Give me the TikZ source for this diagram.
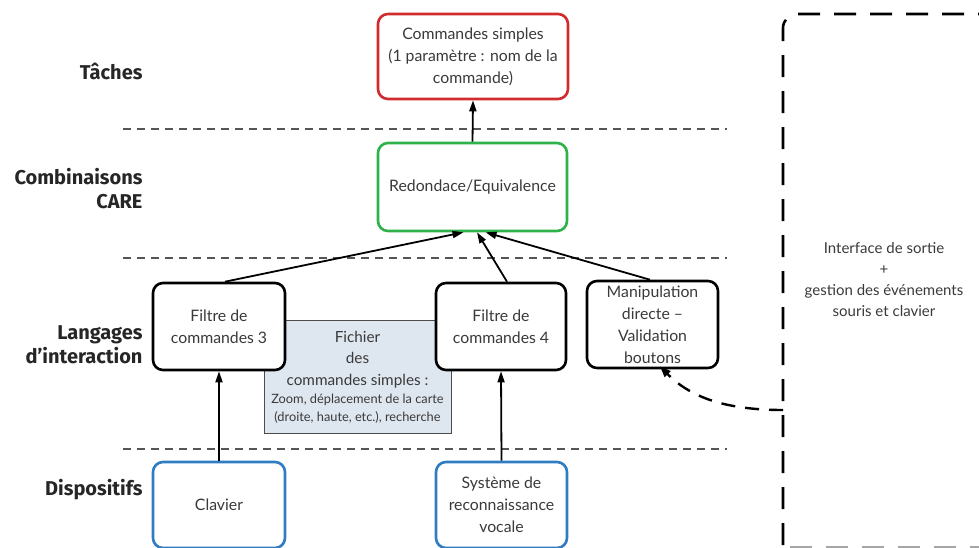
\documentclass[tikz,border=0pt]{standalone}
\usepackage{fontspec}
\setmainfont{Lato}
\newfontfamily\labelfont{Fira Sans}
\usetikzlibrary{arrows.meta,calc}
\definecolor{txtgray}{HTML}{3A3A3A}
\definecolor{boxred}{HTML}{D12B2E}
\definecolor{boxgreen}{HTML}{2FB24A}
\definecolor{boxblue}{HTML}{2F7CC2}
\definecolor{filefill}{HTML}{DEE6EF}
\definecolor{sepgray}{HTML}{555555}
\tikzset{
  layerbox/.style={draw, line width=2.6pt, rounded corners=10pt, fill=white,
    align=center, text=txtgray, font=\fontsize{15.8}{22}\selectfont,
    inner sep=2pt},
  layerlabel/.style={anchor=east, align=right, text=black!85,
    font=\labelfont\bfseries\fontsize{20}{24}\selectfont},
  separator/.style={draw=sepgray, line width=1.3pt, dash pattern=on 8pt off 6pt},
  flow/.style={line width=1.8pt, -{Triangle[length=11pt,width=7pt]}},
  outframe/.style={line width=2.6pt, dash pattern=on 22pt off 14pt, rounded corners=14pt},
  feedback/.style={line width=2.4pt, dash pattern=on 14pt off 10pt,
    -{Triangle[length=11pt,width=8pt]}}
}
\begin{document}
\begin{tikzpicture}[x=1pt,y=-1pt]
\useasboundingbox (0,0) rectangle (979,547);

% layer separators
\draw[separator] (123,129) -- (727,129);
\draw[separator] (123,258) -- (727,258);
\draw[separator] (123,449) -- (727,449);

% layer names
\node[layerlabel] (lt) at (146,71) {Tâches};
\node[layerlabel] (lc) at (146,189) {Combinaisons\\CARE};
\node[layerlabel] (ll) at (146,345) {Langages\\d’interaction};
\node[layerlabel] (ld) at (146,490) {Dispositifs};

% shared command file (drawn beneath the filters)
\node[draw=black!70, line width=0.9pt, fill=filefill, minimum width=187pt,
  minimum height=113pt, inner sep=0pt] (file) at (357.5,376.5) {};
\node[align=center, text=txtgray, font=\fontsize{15.3}{21.5}\selectfont,
  inner sep=0pt] (filetxt) at (357.5,359.5)
  {Fichier\\des\\commandes simples :};
\node[align=center, text=txtgray, font=\fontsize{12.8}{18}\selectfont,
  inner sep=0pt] (filedet) at (357.5,409)
  {Zoom, déplacement de la carte\\(droite, haute, etc.), recherche};

% tasks and combinations
\node[layerbox, draw=boxred, minimum width=190pt, minimum height=85pt] (task) at (473,56.5)
  {Commandes simples\\(1 paramètre : nom de la\\commande)};
\node[layerbox, draw=boxgreen, minimum width=189pt, minimum height=88pt] (care) at (472.5,187)
  {Redondace/Equivalence};

% interaction languages
\node[layerbox, minimum width=132pt, minimum height=87pt] (f3) at (219,326.5)
  {Filtre de\\commandes 3};
\node[layerbox, minimum width=130pt, minimum height=87pt] (f4) at (501,326.5)
  {Filtre de\\commandes 4};
\node[layerbox, minimum width=131pt, minimum height=87pt] (manip) at (652.5,324.5)
  {Manipulation\\directe –\\Validation\\boutons};

% devices
\node[layerbox, draw=boxblue, minimum width=132pt, minimum height=86pt] (kbd) at (219,505)
  {Clavier};
\node[layerbox, draw=boxblue, minimum width=131pt, minimum height=86pt] (voice) at (501.5,505)
  {Système de\\reconnaissance\\vocale};

% output interface frame
\draw[outframe] (1000,14) -- (783,14) -- (783,560);
\draw[outframe, draw=black!35] (790,547) -- (1000,547);
\node[align=center, text=txtgray, font=\fontsize{15}{21}\selectfont] (out) at (884,280)
  {Interface de sortie\\+\\gestion des événements\\souris et clavier};
\coordinate (outedge) at (783,410);

% flows
\draw[flow] (care.north) -- (task.south);
\draw[flow] ([xshift=6pt]f3.north) -- ([xshift=-9pt]care.south);
\draw[flow] ([xshift=6pt]f4.north) -- ([xshift=4.5pt]care.south);
\draw[flow] ([xshift=-2.5pt]manip.north) -- ([xshift=13pt]care.south);
\draw[flow] (kbd.north) -- (f3.south);
\draw[flow] (voice.north) -- (f4.south);
\draw[feedback] (outedge) .. controls (725,410) and (690,397) .. ([xshift=7.5pt,yshift=3pt]manip.south);
\end{tikzpicture}
\end{document}
